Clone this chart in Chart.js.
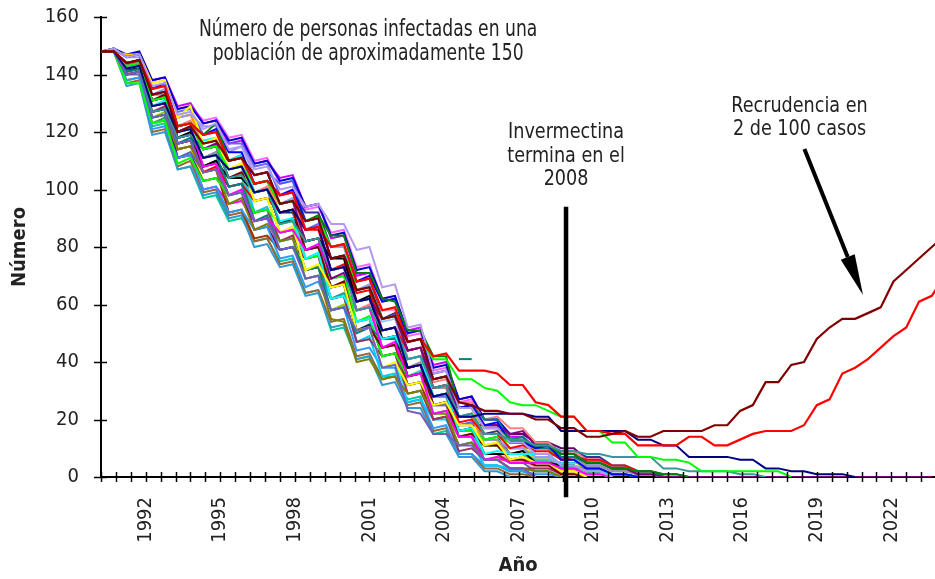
<!DOCTYPE html>
<html>
<head>
<meta charset="utf-8">
<script src="https://cdn.jsdelivr.net/npm/chart.js@4"></script>
<style>
  html, body { margin: 0; padding: 0; background: #fff; }
  #caja { width: 935px; height: 579px; }
</style>
</head>
<body>
<div id="caja"><canvas id="grafica" width="935" height="579"></canvas></div>
<script>
// meses desde el inicio de la simulacion (un punto cada 6 meses)
const meses = [0,6,12,18,24,30,36,42,48,54,60,66,72,78,84,90,96,102,108,114,120,126,132,138,144,150,156,162,168,174,180,186,192,198,204,210,216,222,228,234,240,246,252,258,264,270,276,282,288,294,300,306,312,318,324,330,336,342,348,354,360,366,372,378,384,390,396];
const etiquetasAnio = ['1992','1995','1998','2001','2004','2007','2010','2013','2016','2019','2022'];

// casos con recrudencia y otros que se separan del grupo
const recrudencia1 = [148,148,144,145,133,134,120,122,116,117,110,111,105,106,95,96,89,90,76,77,65,66,55,56,47,48,34,35,26,25,23,23,22,22,20,20,17,17,14,14,15,16,14,14,16,16,16,16,18,18,23,25,33,33,39,40,48,52,55,55,57,59,68,72,76,80,84];
const recrudencia2 = [148,148,144,145,135,136,122,123,119,120,110,111,102,103,98,99,86,87,80,81,68,69,58,59,47,48,42,43,37,37,37,36,32,32,26,25,21,21,16,16,15,15,11,11,11,11,14,14,11,11,13,15,16,16,16,18,25,27,36,38,41,45,49,52,61,63,70];
const lentoVerde = [148,148,143,144,131,132,122,123,114,115,107,108,102,103,95,96,89,90,80,81,65,66,55,56,47,48,41,41,34,34,31,30,26,25,25,23,21,21,16,16,12,12,7,7,6,6,5,2,2,2,2,2,2,2,0];
const lentoMarino = [148,148,142,143,129,130,120,121,111,112,107,108,99,100,92,93,86,87,72,73,61,62,51,52,38,39,28,29,21,21,22,22,22,22,21,21,16,16,16,16,16,16,13,13,11,11,7,7,7,7,6,6,3,3,2,2,1,1,1,0];
const altoLavanda = [148,149,146,147,136,137,126,127,121,123,114,115,107,108,100,101,94,95,88,88,79,80,66,67,52,53,36,37,24,24,17,17,12,12,8,8,4,4,2,2,0];
const altoVerdeOscuro = [148,148,144,145,131,132,122,123,119,123,110,111,102,103,95,96,89,91,84,84,71,71,62,61,51,51,42,42,24,24,17,17,13,13,11,11,8,8,5,5,3,3,2,2,1,1,0];
const lentoTurquesa = [148,148,142,143,127,128,118,119,114,115,104,105,99,100,88,89,82,83,72,73,58,59,51,52,41,42,31,32,21,22,15,15,13,13,11,11,9,9,8,8,7,7,7,7,3,3,2,2,2,2,1,1,0];
const bajoMorado = [148,148,140,141,125,126,116,117,106,107,98,99,89,90,79,80,69,70,58,59,51,52,38,39,23,22,15,15,11,11,6,6,3,3,0];
const trazoTurquesa = [null,null,null,null,null,null,null,null,null,null,null,null,null,null,null,null,null,null,null,null,null,null,null,null,null,null,null,null,41,41];

// el resto de las simulaciones
const sim01 = [148,149,146,147,135,137,122,123,119,121,113,113,102,103,98,100,89,90,76,77,68,70,61,62,47,48,36,37,24,25,18,19,12,12,10,11,6,6,3,3,1,1,0];
const sim02 = [148,148,143,144,133,134,120,122,108,109,98,100,89,90,85,86,79,81,72,73,58,59,45,47,35,36,22,23,14,14,6,7,5,5,5,5,3,3,1,1,0];
const sim03 = [148,149,146,147,137,138,125,129,116,118,107,109,96,97,85,87,72,74,66,67,51,52,38,40,32,33,25,26,18,18,11,12,6,7,5,5,2,2,0];
const sim04 = [148,148,142,143,129,131,120,121,117,118,110,112,99,100,89,90,76,78,62,63,54,55,48,49,41,42,28,29,16,17,8,9,8,8,8,8,4,4,2,2,1,1,0];
const sim05 = [148,148,140,141,127,128,118,119,114,116,110,111,105,106,95,96,82,83,69,71,61,62,55,56,44,45,31,32,24,25,18,18,15,16,11,11,8,8,5,5,3,3,1,1,0,0,0,0,0,0,0,0,0,0,0,0,0,0,0,0,0,0,0,0,0,0];
const sim06 = [148,148,144,145,131,133,122,123,114,115,104,106,99,100,92,93,79,80,66,68,51,52,45,46,38,39,25,26,14,15,11,11,6,6,4,4,1,1,0];
const sim07 = [148,148,141,142,125,126,116,118,111,112,101,102,89,91,79,80,72,73,58,59,50,52,48,48,41,42,34,35,24,25,20,20,13,14,10,10,7,7,5,5,3,3,2,2,0,0,0,0,0,0,0,0,0,0,0,0,0,0,0,0,0,0,0,0,0,0];
const sim08 = [148,148,142,142,131,132,118,120,108,110,104,104,99,100,88,90,82,83,76,76,61,63,48,49,35,36,28,29,16,17,8,8,8,9,5,5,4,4,2,2,1,1,0];
const sim09 = [148,148,143,144,129,130,116,117,106,108,101,102,96,97,92,93,86,86,72,74,64,65,51,52,44,45,31,32,19,20,15,15,10,11,9,9,6,7,6,6,4,4,2,2,0];
const sim10 = [148,148,137,137,123,124,109,111,103,104,98,99,92,93,88,89,76,77,69,70,54,56,42,43,35,36,22,23,16,16,13,14,12,12,8,8,4,4,2,2,0];
const sim11 = [148,148,141,142,125,126,114,115,106,107,95,97,86,88,82,83,69,70,55,54,40,41,34,35,29,30,22,22,11,12,6,6,3,3,2,2,0];
const sim12 = [148,148,144,145,133,133,120,121,111,113,107,108,96,97,85,87,79,80,66,67,58,59,51,52,38,40,31,31,21,22,13,13,8,9,8,8,7,7,4,4,2,2,1,1,0];
const sim13 = [148,149,146,146,133,135,125,126,122,122,113,115,105,106,95,97,86,87,80,80,65,67,55,56,41,42,28,29,16,17,13,13,10,10,7,7,3,3,1,1,0];
const sim14 = [148,148,140,141,127,129,114,115,108,109,98,99,92,93,82,84,76,77,62,63,47,48,42,43,29,30,20,21,9,10,6,6,3,3,3,3,1,1,0];
const sim15 = [148,148,143,143,129,130,120,122,116,117,107,108,92,94,82,83,69,70,62,63,47,49,35,36,26,27,20,20,11,12,4,4,3,3,2,2,0];
const sim16 = [148,148,144,145,135,136,122,124,116,117,110,111,99,101,92,93,82,83,72,73,58,60,45,46,38,39,33,34,26,26,20,21,17,17,12,12,8,9,6,6,3,3,1,1,0];
const sim17 = [148,148,138,139,121,122,111,112,100,101,92,93,86,87,76,77,66,68,58,59,44,45,38,38,26,27,17,18,8,8,4,4,2,2,1,1,0];
const sim18 = [148,148,142,143,127,128,118,119,114,116,104,105,92,93,88,89,82,83,69,70,61,62,48,49,35,37,25,26,14,15,8,8,8,8,6,6,5,5,5,5,4,4,2,2,0];
const sim19 = [148,148,141,142,129,130,116,117,106,107,92,93,83,84,79,80,72,73,66,67,51,52,45,46,32,33,20,21,11,12,8,8,5,5,5,5,3,3,3,3,1,1,0];
const sim20 = [148,148,143,144,131,132,118,119,114,115,110,112,102,103,98,99,92,92,80,81,68,69,55,57,44,45,34,35,21,22,15,16,12,12,11,11,9,9,7,7,4,4,2,2,1,1,0];
const sim21 = [148,148,141,142,123,125,114,115,108,109,104,105,89,90,85,86,72,73,62,64,54,55,42,43,32,33,25,25,16,17,11,11,6,7,6,6,4,4,2,2,0];
const sim22 = [148,148,144,144,131,133,125,126,116,117,107,109,102,103,92,93,76,77,69,70,54,55,48,49,41,42,28,29,21,21,11,12,8,8,5,5,2,2,0];
const sim23 = [148,149,143,144,133,134,127,128,119,120,116,116,108,109,98,99,86,88,72,73,58,59,45,46,35,36,28,28,18,19,15,15,13,13,11,11,7,7,4,4,2,2,1,1,0];
const sim24 = [148,148,142,143,127,128,111,112,103,104,98,99,86,87,79,80,76,77,66,67,58,59,51,52,38,39,25,26,18,18,18,18,15,15,12,12,10,10,6,6,3,3,2,2,0];
const sim25 = [148,148,140,141,129,130,120,121,111,112,101,102,99,100,95,96,82,83,76,77,61,62,58,58,41,42,25,26,14,14,8,8,6,6,3,3,2,2,0];
const sim26 = [148,148,147,147,135,136,122,123,114,115,104,105,99,100,95,96,86,87,72,73,61,62,48,49,35,36,22,23,16,16,13,13,10,10,6,6,3,3,0];
const sim27 = [148,148,141,142,127,128,118,119,114,115,104,106,92,93,82,83,76,77,69,70,61,62,54,55,41,42,28,29,21,22,15,15,13,13,11,11,7,7,4,4,1,1,0];
const sim28 = [148,148,144,144,131,132,118,119,108,110,101,102,96,97,92,92,79,80,66,67,51,53,45,46,38,39,31,31,21,21,13,14,8,8,5,5,2,2,0];
const sim29 = [148,148,138,139,125,127,116,117,111,112,107,108,96,97,85,86,72,73,58,60,51,52,45,46,32,33,20,21,14,14,11,11,10,10,10,10,6,6,2,2,0];
const sim30 = [148,149,142,143,133,134,125,126,119,120,110,112,99,100,88,90,82,83,76,77,61,62,48,49,35,36,25,26,14,15,6,6,6,6,6,6,3,3,1,1,0];
const sim31 = [148,148,140,140,123,124,111,113,106,107,101,102,89,90,82,83,76,77,62,63,47,48,42,43,35,36,28,28,16,17,8,8,5,5,2,2,0];
const sim32 = [148,148,143,144,129,130,116,117,111,113,110,111,105,106,102,103,89,90,76,77,65,66,51,52,38,39,25,26,18,19,15,15,12,12,8,8,4,4,2,2,0];
const sim33 = [148,148,141,142,125,126,111,112,100,101,95,96,89,90,85,86,79,80,72,73,58,59,45,46,32,33,25,25,14,14,6,6,3,3,0];
const sim34 = [148,148,144,145,131,132,122,123,114,115,110,111,102,103,92,93,79,80,66,67,51,52,38,39,29,30,22,23,16,16,13,13,8,8,5,5,2,2,0];
const sim35 = [148,148,142,143,127,128,114,115,103,104,98,99,92,93,88,89,82,83,76,77,68,69,55,56,44,45,31,32,24,24,15,16,10,10,8,8,4,4,2,2,0];
const sim36 = [148,149,147,148,138,139,128,129,123,124,117,118,109,110,103,104,94,95,84,85,72,73,62,63,50,51,38,39,27,28,20,20,15,15,12,12,8,8,5,5,3,3,1,1,0];
const sim37 = [148,148,147,147,138,139,129,130,123,124,116,117,109,110,104,105,94,95,83,84,70,71,61,62,51,52,39,40,27,28,20,20,14,14,10,10,6,6,2,2,0];
const sim38 = [148,148,136,137,119,120,107,108,98,99,90,91,80,81,73,74,63,64,52,53,41,42,32,33,24,24,15,15,7,7,2,2,0];
const sim39 = [148,148,137,138,120,121,108,110,99,100,91,92,82,83,74,75,64,65,54,55,42,43,34,35,25,26,16,17,8,8,3,3,1,1,0];
const sim40 = [148,148,138,139,122,123,107,108,97,98,89,90,82,83,75,76,64,65,51,52,41,42,35,35,27,28,15,16,8,8,4,4,2,2,0];
const sim41 = [148,149,146,147,137,138,128,129,124,125,118,119,110,111,102,103,93,94,85,86,73,74,62,63,49,50,37,38,26,27,18,18,14,14,10,10,6,6,3,3,1,1,0];

// linea vertical de fin del tratamiento
const finTratamiento = [{x: 218.3, y: 94}, {x: 218.3, y: -7}];

// textos
const titulo = ['Número de personas infectadas en una', 'población de aproximadamente 150'];
const notaFin = ['Invermectina', 'termina en el', '2008'];
const notaRecrudencia = ['Recrudencia en', '2 de 100 casos'];

const fuente = "'Liberation Sans Narrow', 'DejaVu Sans Condensed', 'DejaVu Sans', sans-serif";

function serie(valores, color, ancho) {
  return {
    data: valores.map((v, i) => ({x: meses[i], y: v})),
    borderColor: color,
    borderWidth: ancho || 2,
    pointRadius: 0,
    tension: 0,
    fill: false
  };
}

const conjuntos = [
  {data: finTratamiento, borderColor: '#000', borderWidth: 4.5, pointRadius: 0, clip: false},
  serie(recrudencia1, '#800000', 2.2),
  serie(recrudencia2, '#FF0000', 2.2),
  serie(lentoMarino, '#000080'),
  serie(lentoVerde, '#00FF00'),
  serie(lentoTurquesa, '#339999'),
  serie(altoLavanda, '#B399F0'),
  serie(altoVerdeOscuro, '#008000'),
  serie(bajoMorado, '#7060C0'),
  serie(trazoTurquesa, '#008080'),
  serie(sim01, '#0000FF'),
  serie(sim02, '#FF00FF'),
  serie(sim03, '#FFFF00'),
  serie(sim04, '#00FFFF'),
  serie(sim05, '#800080'),
  serie(sim06, '#800000'),
  serie(sim07, '#008080'),
  serie(sim08, '#000000'),
  serie(sim09, '#FF0000'),
  serie(sim10, '#00FF00'),
  serie(sim11, '#808000'),
  serie(sim12, '#969696'),
  serie(sim13, '#9999FF'),
  serie(sim14, '#993366'),
  serie(sim15, '#00CCFF'),
  serie(sim16, '#FF8080'),
  serie(sim17, '#3399FF'),
  serie(sim18, '#33CCCC'),
  serie(sim19, '#993300'),
  serie(sim20, '#333399'),
  serie(sim21, '#339966'),
  serie(sim22, '#FF9900'),
  serie(sim23, '#6666FF'),
  serie(sim24, '#660066'),
  serie(sim25, '#FF99CC'),
  serie(sim26, '#FFCC00'),
  serie(sim27, '#99CCFF'),
  serie(sim28, '#003366'),
  serie(sim29, '#99CC00'),
  serie(sim30, '#FF6600'),
  serie(sim31, '#666699'),
  serie(sim32, '#3366FF'),
  serie(sim33, '#FF00FF'),
  serie(sim34, '#00FFFF'),
  serie(sim35, '#FFFF00'),
  serie(sim36, '#0000CC'),
  serie(sim37, '#CC00FF'),
  serie(sim38, '#3399CC'),
  serie(sim39, '#996633'),
  serie(sim40, '#00CC99'),
  serie(sim41, '#FF66FF')
];

// texto estrechado a lo ancho para parecerse a la letra condensada del original
function textoEstrecho(ctx, texto, px, py, factor) {
  ctx.save();
  ctx.translate(px, py);
  ctx.scale(factor, 1);
  ctx.fillText(texto, 0, 0);
  ctx.restore();
}

const anotaciones = {
  id: 'anotaciones',
  afterDraw(chart) {
    const {ctx, scales: {x, y}} = chart;
    ctx.save();
    // marcas que cruzan los ejes
    ctx.strokeStyle = '#000';
    ctx.lineWidth = 1.5;
    y.ticks.forEach(t => {
      const py = Math.round(y.getPixelForValue(t.value)) + 0.5;
      ctx.beginPath(); ctx.moveTo(x.left - 7, py); ctx.lineTo(x.left + 6, py); ctx.stroke();
    });
    x.ticks.forEach(t => {
      const px = Math.round(x.getPixelForValue(t.value)) + 0.5;
      ctx.beginPath(); ctx.moveTo(px, y.bottom - 5); ctx.lineTo(px, y.bottom + 5); ctx.stroke();
    });

    // textos
    ctx.fillStyle = '#222';
    ctx.textAlign = 'center';
    ctx.textBaseline = 'alphabetic';
    ctx.font = '23px ' + fuente;
    textoEstrecho(ctx, titulo[0], x.getPixelForValue(125.4), y.getPixelForValue(153.4), 0.83);
    textoEstrecho(ctx, titulo[1], x.getPixelForValue(125.4), y.getPixelForValue(145.0), 0.83);
    ctx.font = '22px ' + fuente;
    notaFin.forEach((t, i) => textoEstrecho(ctx, t, x.getPixelForValue(218.3), y.getPixelForValue(117.9 - 8.2 * i), 0.89));
    notaRecrudencia.forEach((t, i) => textoEstrecho(ctx, t, x.getPixelForValue(327.9), y.getPixelForValue(127.1 - 8.1 * i), 0.89));

    // flecha
    const x0 = x.getPixelForValue(330.2), y0 = y.getPixelForValue(114.1);
    const x1 = x.getPixelForValue(357.7), y1 = y.getPixelForValue(63.3);
    const ang = Math.atan2(y1 - y0, x1 - x0);
    const largo = 41, medio = 7.5;
    const bx = x1 - largo * Math.cos(ang), by = y1 - largo * Math.sin(ang);
    ctx.strokeStyle = '#000';
    ctx.lineWidth = 4;
    ctx.beginPath(); ctx.moveTo(x0, y0); ctx.lineTo(bx, by); ctx.stroke();
    ctx.fillStyle = '#000';
    ctx.beginPath();
    ctx.moveTo(x1, y1);
    ctx.lineTo(bx + medio * Math.sin(ang), by - medio * Math.cos(ang));
    ctx.lineTo(bx - medio * Math.sin(ang), by + medio * Math.cos(ang));
    ctx.closePath();
    ctx.fill();
    ctx.restore();
  }
};

new Chart(document.getElementById('grafica'), {
  type: 'line',
  data: {datasets: conjuntos},
  options: {
    responsive: false,
    animation: false,
    events: [],
    layout: {padding: {top: 17, right: 0, left: 0, bottom: 0}},
    plugins: {legend: {display: false}, tooltip: {enabled: false}},
    scales: {
      x: {
        type: 'linear',
        min: 0,
        max: 391.5,
        grid: {display: false},
        border: {display: true, color: '#000', width: 2},
        ticks: {
          stepSize: 7,
          includeBounds: false,
          autoSkip: false,
          maxRotation: 90,
          minRotation: 90,
          padding: 12,
          color: '#222',
          font: {family: fuente, size: 20},
          callback: v => ((v - 21) % 35 === 0 && v >= 21) ? etiquetasAnio[(v - 21) / 35] : ''
        },
        title: {display: true, text: 'Año', color: '#222', font: {family: fuente, size: 20, weight: 'bold'}, padding: {top: 0, bottom: 1}},
        afterFit: s => { s.height = 102; s.paddingLeft = 0; s.paddingRight = 0; }
      },
      y: {
        min: 0,
        max: 160,
        grid: {display: false},
        border: {display: true, color: '#000', width: 2},
        ticks: {stepSize: 20, padding: 14, color: '#222', font: {family: fuente, size: 20}},
        title: {display: true, text: 'Número', color: '#222', font: {family: fuente, size: 20, weight: 'bold'}, padding: {top: 8, bottom: 0}},
        afterFit: s => { s.width = 101; s.paddingTop = 0; s.paddingBottom = 0; }
      }
    }
  },
  plugins: [anotaciones]
});
</script>
</body>
</html>
